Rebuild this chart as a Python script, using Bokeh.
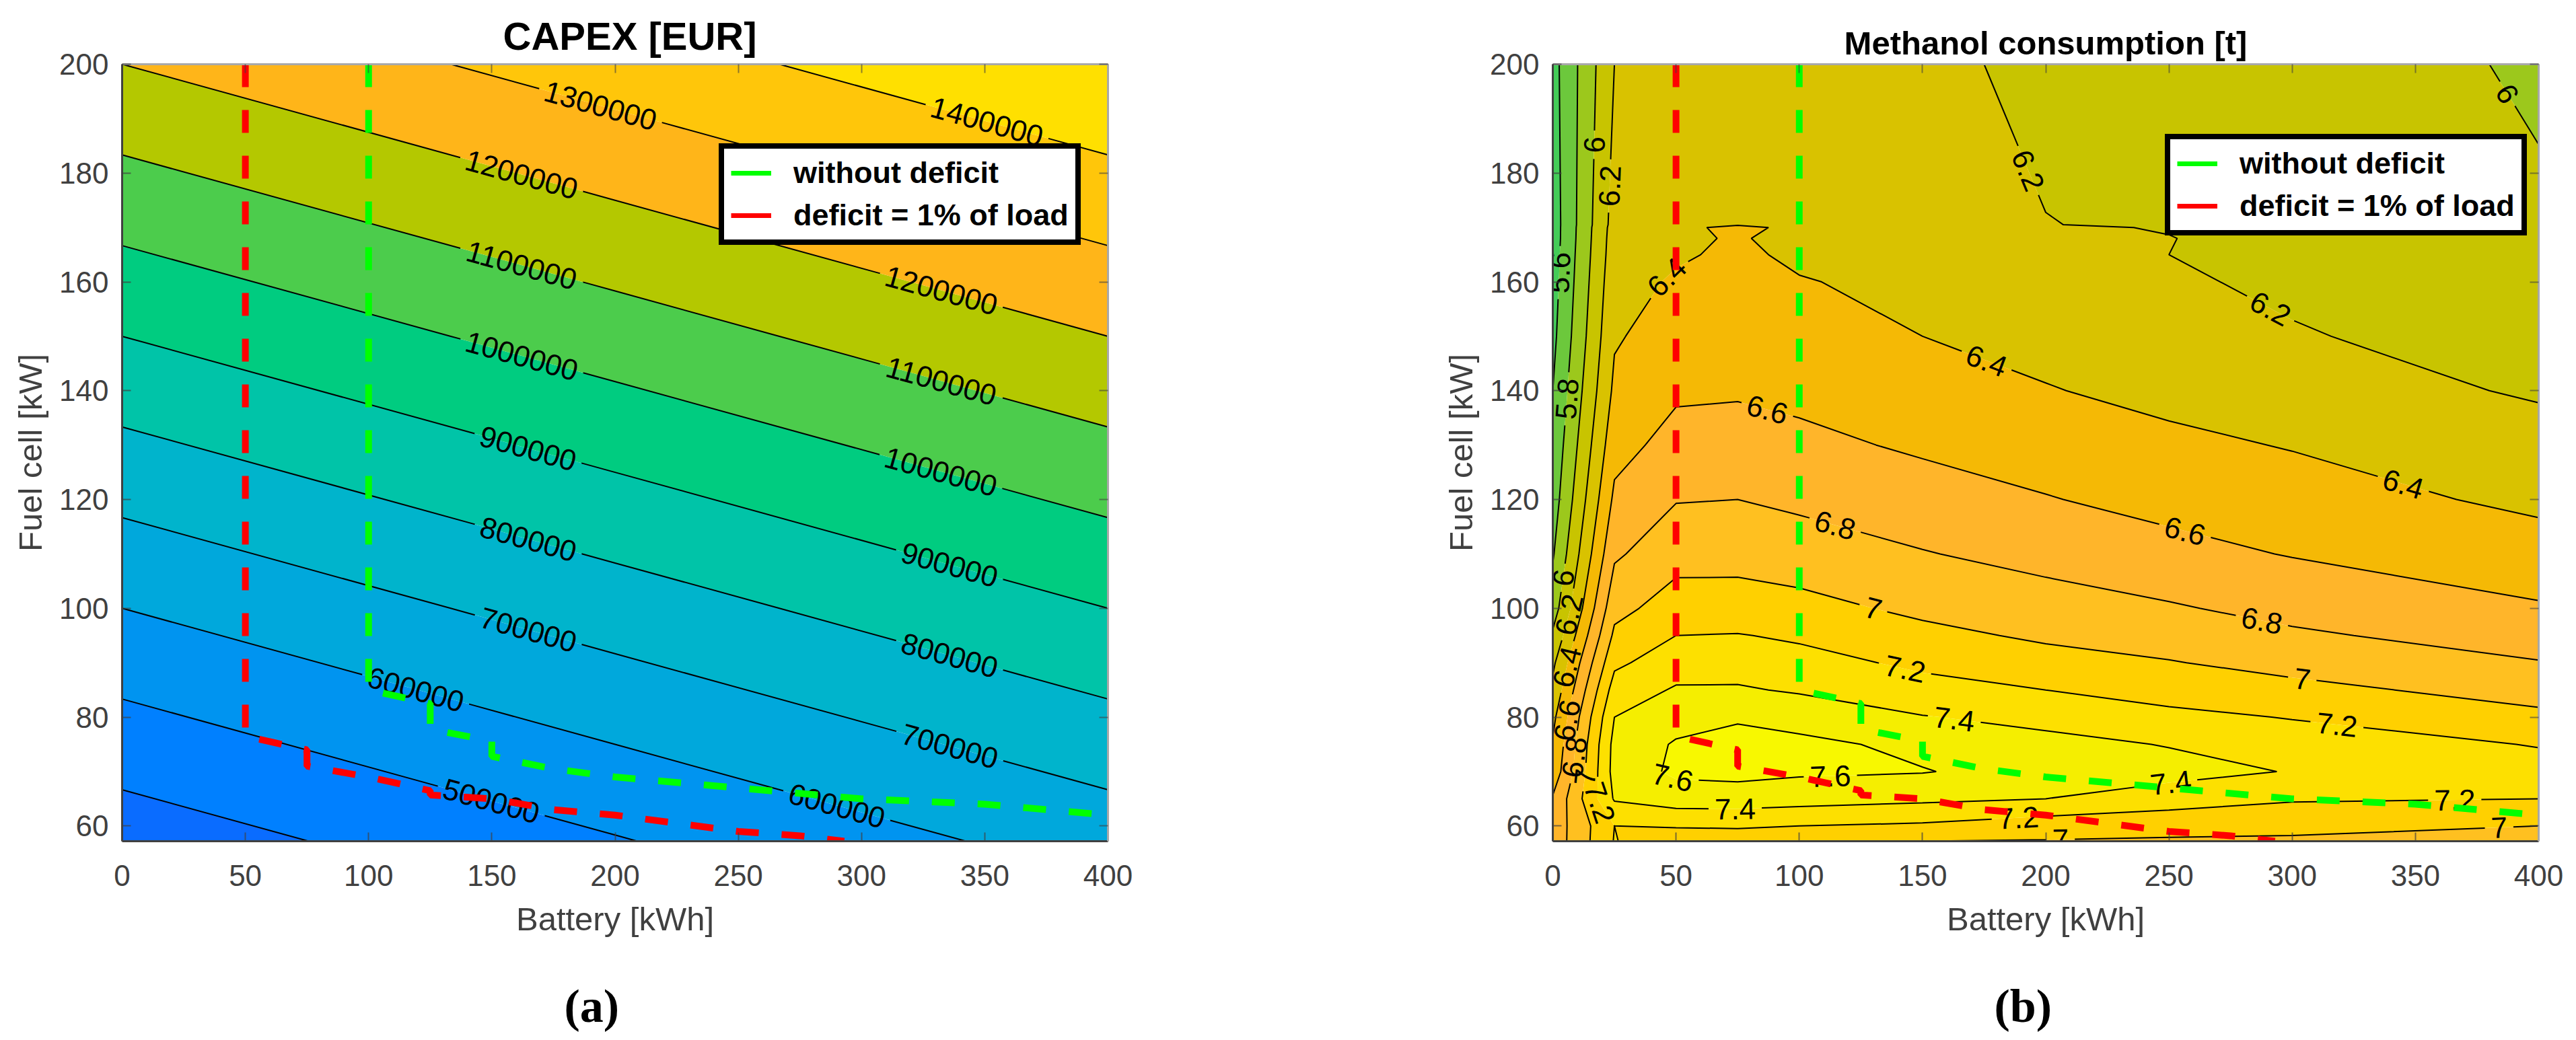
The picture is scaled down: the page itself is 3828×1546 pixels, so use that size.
import numpy as np
from bokeh.core.properties import value
from bokeh.embed import file_html
from bokeh.layouts import row
from bokeh.models import (ColumnDataSource, FixedTicker, Legend, LegendItem,
                          LinearAxis, Range1d, Title)
from bokeh.plotting import figure
from bokeh.plotting.contour import contour_data
from bokeh.resources import INLINE

# ------------------------------------------------------------------ data
x_ticks = [0, 50, 100, 150, 200, 250, 300, 350, 400]
y_ticks = [60, 80, 100, 120, 140, 160, 180, 200]
y_bottom = 57.2

capex_battery = [0, 200, 400]
capex_fuelcell = [57.2, 100, 150, 200]
capex_values = [
    [343200, 493200, 643200],
    [600000, 750000, 900000],
    [900000, 1050000, 1200000],
    [1200000, 1350000, 1500000],
]
capex_levels = [400000, 500000, 600000, 700000, 800000, 900000, 1000000,
                1100000, 1200000, 1300000, 1400000]
capex_labels = [
    (1300000, 194, 192.2), (1400000, 350.7, 189.1), (1200000, 162, 179.6), (1200000, 332, 157.8),
    (1100000, 162, 162.9), (1100000, 332, 141.2), (1000000, 162, 146.1), (1000000, 332, 124.8),
    (900000, 164.7, 129.4), (900000, 335.7, 108), (800000, 164.7, 112.6), (800000, 335.7, 91.3),
    (700000, 164.7, 95.9), (700000, 335.7, 74.5), (600000, 119, 85), (600000, 289.7, 63.3),
    (500000, 149.7, 64.5),
]
capex_band_colors = ["#0a6cff", "#0080ff", "#0094f0", "#00a8dc", "#00b4cc", "#00c4a8", "#00cc80",
                     "#4ccc4c", "#b4c800", "#ffb519", "#ffc60a", "#ffe000"]

meth_battery = [0, 25, 50, 75, 100, 150, 200, 250, 300, 400]
meth_fuelcell = [57.2, 60, 65, 70, 75, 80, 85, 90, 95, 100, 110, 120, 130, 140, 150, 160, 165,
                 168, 170, 170.5, 200]
meth_values = [
    [6.68, 7.21, 7.05, 7.05, 7.05, 7.00, 6.99, 6.98, 6.97, 6.95],
    [6.68, 7.20, 7.22, 7.23, 7.20, 7.17, 7.09, 7.06, 7.05, 7.00],
    [6.62, 7.42, 7.50, 7.50, 7.48, 7.44, 7.40, 7.30, 7.22, 7.20],
    [6.47, 7.47, 7.64, 7.66, 7.63, 7.61, 7.52, 7.47, 7.39, 7.27],
    [6.42, 7.46, 7.62, 7.66, 7.65, 7.55, 7.46, 7.39, 7.30, 7.19],
    [6.35, 7.40, 7.52, 7.58, 7.52, 7.41, 7.34, 7.25, 7.19, 7.04],
    [6.25, 7.29, 7.42, 7.42, 7.38, 7.27, 7.20, 7.12, 7.05, 6.93],
    [6.16, 7.16, 7.31, 7.32, 7.27, 7.16, 7.07, 7.01, 6.94, 6.81],
    [6.03, 7.04, 7.20, 7.21, 7.17, 7.05, 6.97, 6.92, 6.83, 6.71],
    [5.90, 6.94, 7.09, 7.08, 7.06, 6.96, 6.88, 6.82, 6.74, 6.62],
    [5.78, 6.77, 6.93, 6.94, 6.90, 6.81, 6.74, 6.66, 6.59, 6.48],
    [5.70, 6.64, 6.79, 6.80, 6.76, 6.69, 6.61, 6.54, 6.48, 6.36],
    [5.65, 6.53, 6.67, 6.68, 6.65, 6.57, 6.51, 6.44, 6.39, 6.27],
    [5.60, 6.44, 6.57, 6.58, 6.55, 6.48, 6.41, 6.35, 6.28, 6.18],
    [5.55, 6.38, 6.49, 6.52, 6.48, 6.40, 6.34, 6.28, 6.215, 6.12],
    [5.52, 6.335, 6.42, 6.46, 6.41, 6.355, 6.28, 6.225, 6.165, 6.075],
    [5.51, 6.31, 6.38, 6.43, 6.37, 6.33, 6.25, 6.20, 6.14, 6.05],
    [5.50, 6.30, 6.36, 6.42, 6.33, 6.32, 6.235, 6.205, 6.13, 6.04],
    [5.50, 6.29, 6.37, 6.43, 6.37, 6.31, 6.225, 6.19, 6.12, 6.03],
    [5.50, 6.28, 6.36, 6.39, 6.35, 6.305, 6.205, 6.17, 6.115, 6.02],
    [5.53, 6.20, 6.28, 6.30, 6.28, 6.26, 6.14, 6.10, 6.08, 5.98],
]
meth_levels = [5.6, 5.8, 6.0, 6.2, 6.4, 6.6, 6.8, 7.0, 7.2, 7.4, 7.6]
meth_labels = [
    (6, 381, 192.8), (6.2, 196.7, 181.2), (6.2, 289, 153.2), (6.4, 46, 161), (6.4, 176, 145.5),
    (6.4, 344, 121.2), (6.6, 87, 136.5), (6.6, 256, 113.3), (6.8, 114, 114.4), (6.8, 287.7, 97.7),
    (7, 130, 99.9), (7, 304, 86.7), (7.2, 143, 89.1), (7.2, 318, 78), (7.4, 163, 80),
    (7.4, 251, 66.8), (7.4, 74, 62.7), (7.6, 48.7, 69), (7.6, 112.7, 68), (7.2, 189, 60.5),
    (7.2, 366, 63.3), (7, 206, 57.4), (7, 384, 59.3), (6, 17.7, 185.2), (6.2, 25, 177.6),
    (5.6, 2.7, 161.7), (5.8, 6, 138.5), (6, 4.3, 105.6), (6.2, 6, 98.9), (6.4, 7, 89.1),
    (6.6, 6, 79.4), (6.8, 7.7, 72.7), (7, 12.7, 69), (7.2, 21, 64.8),
]
meth_band_colors = ["#44cc58", "#6cc83c", "#9cc81c", "#c8c400", "#d9c200", "#f5b905", "#ffb52a",
                    "#ffc020", "#ffd000", "#fde000", "#f5ee00", "#f8f800"]

green_x = [100, 100, 125, 125, 150, 150, 175, 200, 250, 300, 350, 400]
green_y = [200, 85, 82.5, 77.8, 75.6, 72.8, 70.5, 69, 67, 65, 64, 62]
red_x = [50, 50, 75, 75, 100, 125, 125, 150, 175, 200, 225, 250, 275, 293]
red_y = [200, 76.5, 74, 71, 69, 66.5, 65.7, 65, 63, 62, 60.5, 59, 58.2, 57.2]

# ------------------------------------------------------------------ layout
FIG_H = 1536
FRAME_W, FRAME_H = 1465, 1155
FRAME_TOP = 95
FONT = "Liberation Sans"
TICK_COLOR = "#404040"
LABEL_SIZE = 44


def level_paths(line_data, level_index):
    xs = np.asarray(line_data.xs[level_index], dtype=float)
    ys = np.asarray(line_data.ys[level_index], dtype=float)
    paths = []
    breaks = np.where(np.isnan(xs))[0]
    start = 0
    for b in list(breaks) + [len(xs)]:
        if b - start >= 2:
            paths.append((xs[start:b], ys[start:b]))
        start = b + 1
    return paths


def fmt(v):
    return "%d" % v if float(v).is_integer() else "%g" % v


def text_width(s):
    return sum(0.278 if ch == "." else 0.556 for ch in s) * LABEL_SIZE


def contour_panel(p, x, y, z, levels, labels, colors):
    sx, sy = FRAME_W / 400.0, FRAME_H / (200.0 - y_bottom)
    span = float(np.max(z) - np.min(z))
    edges = [float(np.min(z)) - span * 0.01] + list(levels) + [float(np.max(z)) + span * 0.01]
    filled = contour_data(x, y, z, edges, want_line=False).fill_data
    src = ColumnDataSource(dict(xs=filled.xs, ys=filled.ys, color=colors))
    p.multi_polygons(xs="xs", ys="ys", source=src, fill_color="color", line_color=None)

    lines = contour_data(x, y, z, levels, want_fill=False).line_data
    all_paths = {}
    for i, lev in enumerate(levels):
        all_paths[round(lev, 3)] = [dict(x=a, y=b, cuts=[]) for a, b in level_paths(lines, i)]

    tx, ty, tt, ta = [], [], [], []
    for lev, lx, ly in labels:
        paths = all_paths[round(float(lev), 3)]
        best = None
        for path in paths:
            px, py = path["x"] * sx, path["y"] * sy
            seg = np.hypot(np.diff(px), np.diff(py))
            cum = np.concatenate([[0], np.cumsum(seg)])
            path["cum"] = cum
            for j in range(len(seg)):
                if seg[j] == 0:
                    continue
                t = ((lx * sx - px[j]) * (px[j + 1] - px[j]) + (ly * sy - py[j]) * (py[j + 1] - py[j])) / seg[j] ** 2
                t = min(1.0, max(0.0, t))
                d = np.hypot(px[j] + t * (px[j + 1] - px[j]) - lx * sx, py[j] + t * (py[j + 1] - py[j]) - ly * sy)
                if best is None or d < best[0]:
                    best = (d, path, cum[j] + t * seg[j])
        if best is None:
            continue
        _, path, s = best
        label = fmt(lev)
        half = text_width(label) / 2 + 9
        cum = path["cum"]
        a0, a1 = max(0.0, s - half), min(cum[-1], s + half)
        x0, y0 = np.interp(a0, cum, path["x"]), np.interp(a0, cum, path["y"])
        x1, y1 = np.interp(a1, cum, path["x"]), np.interp(a1, cum, path["y"])
        ang = np.arctan2((y1 - y0) * sy, (x1 - x0) * sx)
        if ang > np.pi / 2:
            ang -= np.pi
        elif ang < -np.pi / 2:
            ang += np.pi
        path["cuts"].append((a0, a1))
        tx.append(float(np.interp(s, cum, path["x"])))
        ty.append(float(np.interp(s, cum, path["y"])))
        tt.append(label)
        ta.append(float(ang))

    seg_x, seg_y = [], []
    for paths in all_paths.values():
        for path in paths:
            px, py = path["x"] * sx, path["y"] * sy
            cum = np.concatenate([[0], np.cumsum(np.hypot(np.diff(px), np.diff(py)))])
            keep = []
            pos = 0.0
            for a0, a1 in sorted(path["cuts"]):
                if a0 > pos:
                    keep.append((pos, a0))
                pos = max(pos, a1)
            if pos < cum[-1]:
                keep.append((pos, cum[-1]))
            for a0, a1 in keep:
                inner = (cum > a0) & (cum < a1)
                ss = np.concatenate([[a0], cum[inner], [a1]])
                seg_x.append(np.interp(ss, cum, path["x"]).tolist())
                seg_y.append(np.interp(ss, cum, path["y"]).tolist())
    p.multi_line(seg_x, seg_y, line_color="black", line_width=2)
    p.text(tx, ty, text=tt, angle=ta, text_font=value(FONT), text_font_size=value("%dpx" % LABEL_SIZE),
           text_color="black", text_align="center", text_baseline="middle")


def make_panel(fig_w, title, title_size, title_align, title_offset, title_standoff, left, x, y, z, levels,
               labels, colors, legend_xy, sub, sub_offset):
    p = figure(width=fig_w, height=FIG_H, output_backend="svg", toolbar_location=None,
               x_range=Range1d(0, 400), y_range=Range1d(y_bottom, 200),
               min_border_left=left, min_border_right=fig_w - left - FRAME_W, min_border_top=FRAME_TOP,
               min_border_bottom=FIG_H - FRAME_TOP - FRAME_H, background_fill_color="white",
               border_fill_color="white", outline_line_color=None)
    p.grid.visible = False
    p.title = Title(text=title, align=title_align, offset=title_offset, standoff=title_standoff,
                    text_font=FONT, text_font_size="%dpx" % title_size, text_font_style="bold",
                    text_color="black")

    for ax, ticks in ((p.xaxis[0], x_ticks), (p.yaxis[0], y_ticks)):
        ax.ticker = FixedTicker(ticks=ticks)
        ax.major_label_text_font = FONT
        ax.major_label_text_font_size = "44px"
        ax.major_label_text_color = TICK_COLOR
        ax.axis_label_text_font = FONT
        ax.axis_label_text_font_size = "49px"
        ax.axis_label_text_font_style = "normal"
        ax.axis_label_text_color = TICK_COLOR
        ax.axis_line_color = TICK_COLOR
        ax.axis_line_width = 3
        ax.major_tick_line_color = TICK_COLOR
        ax.major_tick_line_alpha = 0.7
        ax.major_tick_line_width = 2
        ax.major_tick_in = 13
        ax.major_tick_out = 0
        ax.minor_tick_line_color = None
    p.xaxis[0].axis_label = "Battery [kWh]"
    p.yaxis[0].axis_label = "Fuel cell [kW]"
    p.xaxis[0].major_label_standoff = 35
    p.yaxis[0].major_label_standoff = 20
    p.xaxis[0].axis_label_standoff = 19
    p.yaxis[0].axis_label_standoff = 13
    p.yaxis[0].major_label_orientation = "horizontal"

    for loc, ticks in (("above", x_ticks), ("right", y_ticks)):
        ax = LinearAxis(ticker=FixedTicker(ticks=ticks),
                        major_label_overrides={t: "" for t in ticks},
                        axis_line_color="#a8a8a8", axis_line_width=3,
                        major_tick_line_color=TICK_COLOR, major_tick_line_alpha=0.6, major_tick_line_width=2,
                        major_tick_in=13, major_tick_out=0, minor_tick_line_color=None,
                        major_label_text_font_size="1px", major_label_standoff=0)
        p.add_layout(ax, loc)

    contour_panel(p, np.array(x, float), np.array(y, float), np.array(z, float), levels, labels, colors)

    p.line(green_x, green_y, line_color="#00ff00", line_width=10, line_dash=[34, 34])
    p.line(red_x, red_y, line_color="#ff0000", line_width=10, line_dash=[34, 34])
    g_key = p.line([float("nan")] * 2, [float("nan")] * 2, line_color="#00ff00", line_width=7)
    r_key = p.line([float("nan")] * 2, [float("nan")] * 2, line_color="#ff0000", line_width=7)
    legend = Legend(items=[LegendItem(label="without deficit", renderers=[g_key]),
                           LegendItem(label="deficit = 1% of load", renderers=[r_key])],
                    location=legend_xy, orientation="vertical", margin=0, padding=10, spacing=11,
                    glyph_width=60, glyph_height=42, label_height=42, label_standoff=33,
                    label_text_font=FONT, label_text_font_size="45px", label_text_font_style="bold",
                    label_text_color="black", border_line_color="black", border_line_width=8,
                    border_line_alpha=1.0, background_fill_color="white", background_fill_alpha=1.0)
    p.add_layout(legend, "center")

    p.add_layout(Title(text=" ", standoff=56, text_font_size="1px"), "below")
    p.add_layout(Title(text=sub, align="left", offset=sub_offset, standoff=0,
                       text_font="Liberation Serif", text_font_size="70px", text_font_style="bold",
                       text_color="black"), "below")
    return p


left = make_panel(1914, "CAPEX [EUR]", 58, "left", 566, 20, 181, capex_battery, capex_fuelcell, capex_values,
                  capex_levels, capex_labels, capex_band_colors, (887, 886), "(a)", 657)
right = make_panel(1906, "Methanol consumption [t]", 49, "center", 0, 9, 393, meth_battery, meth_fuelcell, meth_values,
                   meth_levels, meth_labels, meth_band_colors, (910, 900), "(b)", 656)

open("out.html", "w").write(file_html(row(left, right, spacing=0), INLINE))
